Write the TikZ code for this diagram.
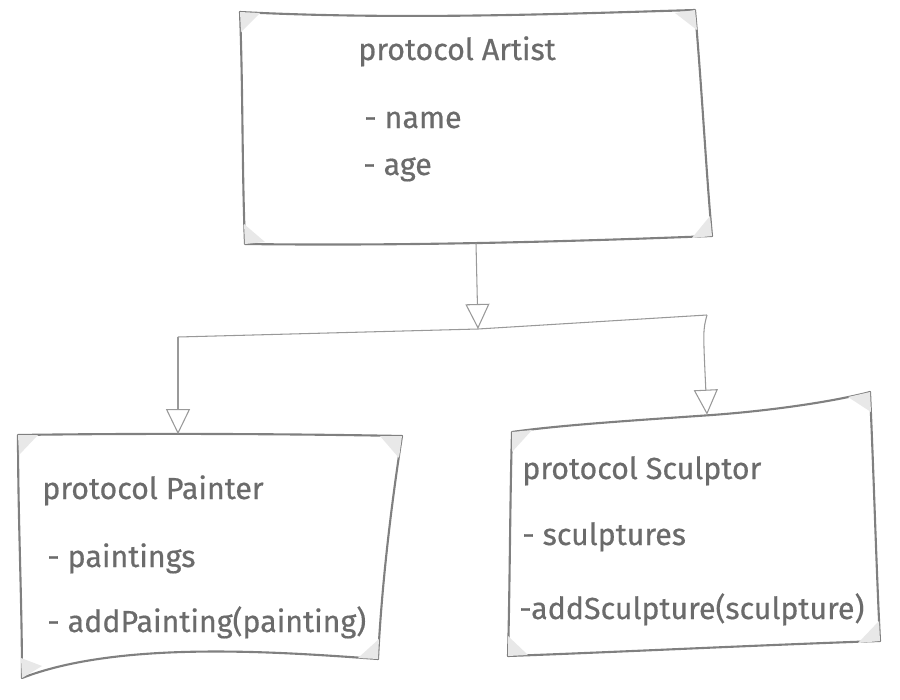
\documentclass[tikz,border=0pt]{standalone}
\usepackage{fontspec}
\setmainfont{Fira Sans}[FakeBold=0.5]
\usetikzlibrary{arrows.meta}
\colorlet{inkColor}{black!50}
\colorlet{lineColor}{black!40}
\colorlet{textColor}{black!58}

\begin{document}
\begin{tikzpicture}[
x=0.02cm,y=-0.02cm,
card/.style={inner sep=0pt,draw=none},
outline/.style={draw=inkColor,line width=1.2pt,line join=round,fill=white},
fuzz/.style={fill=black!9,draw=none},
label/.style={anchor=base west,inner sep=0pt,text=textColor,font=\fontsize{17.3}{20}\selectfont},
link/.style={draw=lineColor,line width=0.6pt},
inherit/.style={link,-{Triangle[open,length=0.5cm,width=0.48cm]}},
]
\useasboundingbox[fill=white] (0,0) rectangle (900,700);

% sketchy card outlines
\path[outline] (240,12) .. controls (400,20) and (560,14) .. (695,10)
  .. controls (702,90) and (706,170) .. (712,236)
  .. controls (560,242) and (400,246) .. (245,244)
  .. controls (242,170) and (243,90) .. cycle;
\path[outline] (18,435) .. controls (150,433) and (300,434) .. (402,436)
  .. controls (392,500) and (382,580) .. (378,659)
  .. controls (280,652) and (120,640) .. (22,678)
  .. controls (22,600) and (18,520) .. cycle;
\path[outline] (512,432) .. controls (560,425) and (640,420) .. (712,415)
  .. controls (780,410) and (840,400) .. (870,392)
  .. controls (874,480) and (876,560) .. (880,641)
  .. controls (760,645) and (620,652) .. (508,656)
  .. controls (510,580) and (510,500) .. cycle;
\path[fuzz]
  (240,12) -- +(20,1) -- +(1,20) -- cycle
  (695,10) -- +(-20,3) -- +(2,20) -- cycle
  (712,236) -- +(-20,2) -- +(-2,-20) -- cycle
  (245,244) -- +(20,-2) -- +(-1,-20) -- cycle
  (18,435) -- +(20,0) -- +(1,20) -- cycle
  (402,436) -- +(-22,0) -- +(-3,22) -- cycle
  (378,659) -- +(-20,-1) -- +(1,-20) -- cycle
  (22,678) -- +(20,-12) -- +(-1,-20) -- cycle
  (512,432) -- +(20,-2) -- +(0,20) -- cycle
  (870,392) -- +(-22,5) -- +(1,20) -- cycle
  (880,641) -- +(-22,2) -- +(-1,-20) -- cycle
  (508,656) -- +(20,-1) -- +(0,-20) -- cycle;

% cards
\node[card,minimum width=9.44cm,minimum height=4.64cm] (artist) at (476,127) {};
\node[card,minimum width=7.68cm,minimum height=4.9cm] (painter) at (210,557) {};
\node[card,minimum width=7.44cm,minimum height=4.84cm] (sculptor) at (694,536) {};

% texts
\node[label] (artistName) at (358,60) {protocol Artist};
\node[label] (artistA) at (364,128) {- name};
\node[label] (artistB) at (363,175) {- age};
\node[label] (painterName) at (42,499) {protocol Painter};
\node[label] (painterA) at (47,567) {- paintings};
\node[label] (painterB) at (47,632) {- addPainting(painting)};
\node[label] (sculptorName) at (522,479) {protocol Sculptor};
\node[label] (sculptorA) at (522,545) {- sculptures};
\node[label] (sculptorB) at (519,619) {-addSculpture(sculpture)};

% inheritance links
\coordinate (fork) at (478,329);
\coordinate (lbend) at (178,337);
\coordinate (rbend) at (707,315);
\draw[inherit] (artist.south) -- (fork);
\draw[link] (lbend) -- (fork) -- (rbend);
\draw[inherit] (lbend) -- (lbend |- painter.north);
\draw[inherit] (rbend) .. controls (703,330) .. (rbend |- sculptor.north);
\end{tikzpicture}
\end{document}
